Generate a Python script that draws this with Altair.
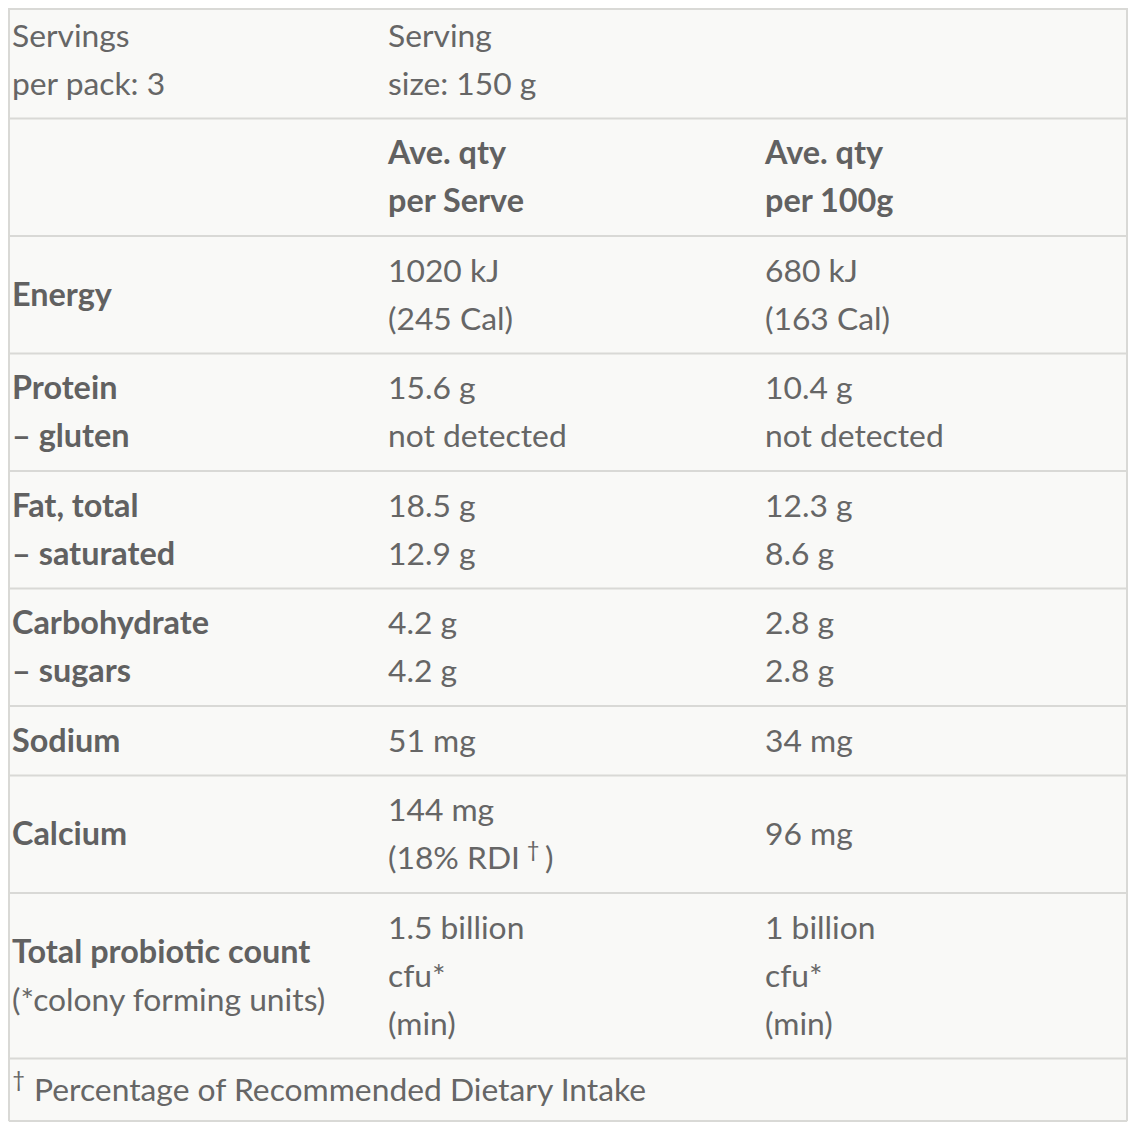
import altair as alt
import pandas as pd

# ---------------- data (table content) ----------------
label_lines = [
    ["Servings", "per pack: 3"],
    [],
    ["Energy"],
    ["Protein", "– gluten"],
    ["Fat, total", "– saturated"],
    ["Carbohydrate", "– sugars"],
    ["Sodium"],
    ["Calcium"],
    ["Total probiotic count", "(*colony forming units)"],
]
label_bold = [
    [False, False],
    [],
    [True],
    [True, True],
    [True, True],
    [True, True],
    [True],
    [True],
    [True, False],
]
serve_lines = [
    ["Serving", "size: 150 g"],
    ["Ave. qty", "per Serve"],
    ["1020 kJ", "(245 Cal)"],
    ["15.6 g", "not detected"],
    ["18.5 g", "12.9 g"],
    ["4.2 g", "4.2 g"],
    ["51 mg"],
    ["144 mg", "(18% RDI"],
    ["1.5 billion", "cfu*", "(min)"],
]
per100_lines = [
    [],
    ["Ave. qty", "per 100g"],
    ["680 kJ", "(163 Cal)"],
    ["10.4 g", "not detected"],
    ["12.3 g", "8.6 g"],
    ["2.8 g", "2.8 g"],
    ["34 mg"],
    ["96 mg"],
    ["1 billion", "cfu*", "(min)"],
]
header_row = 1  # row whose value cells are bold
rdi_row = 7
dagger = "†"
rdi_close = ")"
footer_text = "Percentage of Recommended Dietary Intake"

# ---------------- layout ----------------
W, H = 1120, 1114          # plot size (px)
X0, Y0 = 8, 8              # page offset so data coords = screen px
LINE = 48
PAD = 21.5
TOP = 1.0
COL_X = [12, 388, 765]
LEFT, RIGHT = 9, 1127
FS = 31.8
FS_BOLD = 32.4
TEXT_COLOR = "#666666"
RULE_COLOR = "#d9d9d6"

n_rows = len(label_lines) + 1  # + footer
counts = [max(len(a), len(b), len(c), 1) for a, b, c in zip(label_lines, serve_lines, per100_lines)] + [1]
bounds = [TOP]
for n in counts:
    bounds.append(bounds[-1] + PAD + LINE * n)
BOTTOM = min(bounds[-1], Y0 + H - 1)

texts = []
def add_cell(lines, bolds, x, r):
    k = len(lines)
    center = (bounds[r] + bounds[r + 1]) / 2
    for i, t in enumerate(lines):
        yc = center + (i - (k - 1) / 2) * LINE
        texts.append({"x": x, "y": yc + 11, "t": t, "bold": bolds[i]})

for r in range(len(label_lines)):
    add_cell(label_lines[r], label_bold[r], COL_X[0], r)
    add_cell(serve_lines[r], [r == header_row] * len(serve_lines[r]), COL_X[1], r)
    add_cell(per100_lines[r], [r == header_row] * len(per100_lines[r]), COL_X[2], r)

# footer
fr = n_rows - 1
fcenter = (bounds[fr] + BOTTOM) / 2
texts.append({"x": 34, "y": fcenter + 11, "t": footer_text, "bold": False})

# calcium closing paren and daggers
rc = (bounds[rdi_row] + bounds[rdi_row + 1]) / 2 + LINE / 2
texts.append({"x": COL_X[1] + 157, "y": rc + 11, "t": rdi_close, "bold": False})
daggers = pd.DataFrame([
    {"x": COL_X[1] + 145, "y": rc - 1, "t": dagger},
    {"x": 18.5, "y": fcenter - 3, "t": dagger},
])

df = pd.DataFrame(texts)

xs = alt.Scale(domain=[X0, X0 + W], nice=False, zero=False)
ys = alt.Scale(domain=[Y0, Y0 + H], nice=False, zero=False, reverse=True)

hl = pd.DataFrame({"y": bounds[1:-1] + [BOTTOM, Y0 + 1], "x1": LEFT, "x2": RIGHT})
vl = pd.DataFrame({"x": [LEFT, RIGHT], "y1": [Y0, Y0], "y2": [BOTTOM, BOTTOM]})

base = alt.Chart(df)

h_rules = alt.Chart(hl).mark_rule(color=RULE_COLOR, strokeWidth=2).encode(
    x=alt.X("x1:Q", scale=xs, axis=None), x2="x2:Q", y=alt.Y("y:Q", scale=ys, axis=None)
)
v_rules = alt.Chart(vl).mark_rule(color=RULE_COLOR, strokeWidth=2).encode(
    x=alt.X("x:Q", scale=xs, axis=None), y=alt.Y("y1:Q", scale=ys, axis=None), y2="y2:Q"
)

reg = base.transform_filter("!datum.bold").mark_text(
    align="left", baseline="alphabetic", font="Lato", fontSize=FS, color=TEXT_COLOR
).encode(x=alt.X("x:Q", scale=xs, axis=None), y=alt.Y("y:Q", scale=ys, axis=None), text="t:N")

bold = base.transform_filter("datum.bold").mark_text(
    align="left", baseline="alphabetic", font="Lato", fontSize=FS_BOLD, fontWeight="bold", color="#616161"
).encode(x=alt.X("x:Q", scale=xs, axis=None), y=alt.Y("y:Q", scale=ys, axis=None), text="t:N")

dag = alt.Chart(daggers).mark_text(
    align="center", baseline="alphabetic", font="Lato", fontSize=22, color=TEXT_COLOR
).encode(x=alt.X("x:Q", scale=xs, axis=None), y=alt.Y("y:Q", scale=ys, axis=None), text="t:N")

chart = alt.layer(h_rules, v_rules, reg, bold, dag).properties(
    width=W, height=H, padding=0, autosize=alt.AutoSizeParams(type="none"),
    background="#f9f9f7",
).configure_view(stroke=None)

chart.save("out.html", embed_options={"renderer": "svg", "actions": False})
